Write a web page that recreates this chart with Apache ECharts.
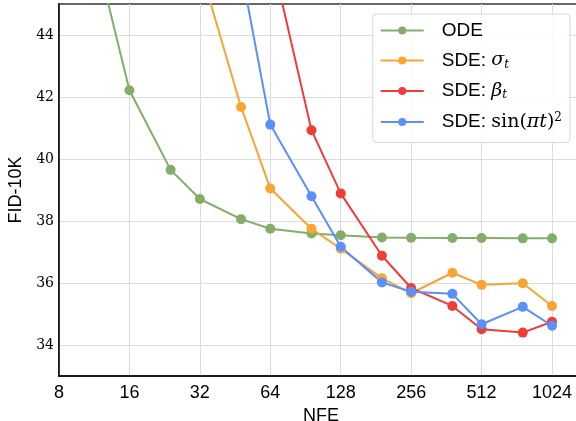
<!DOCTYPE html>
<html>
<head>
<meta charset="utf-8">
<script src="https://cdn.jsdelivr.net/npm/echarts@6/dist/echarts.min.js"></script>
<style>
  html, body { margin: 0; padding: 0; background: #fff; }
  #chart { width: 576px; height: 421px; }
</style>
</head>
<body>
<div id="chart"></div>
<script>
// NFE steps for each curve
const odeNfe = [8, 16, 24, 32, 48, 64, 96, 128, 192, 256, 384, 512, 768, 1024]
const odeFid = [51.5, 42.22, 39.65, 38.71, 38.06, 37.75, 37.6, 37.54, 37.47, 37.46, 37.45, 37.45, 37.44, 37.44]

const sigmaNfe = [32, 48, 64, 96, 128, 192, 256, 384, 512, 768, 1024]
const sigmaFid = [46.2, 41.68, 39.05, 37.75, 37.11, 36.15, 35.67, 36.33, 35.94, 35.99, 35.26]

const betaNfe = [64, 96, 128, 192, 256, 384, 512, 768, 1024]
const betaFid = [46.7, 40.93, 38.89, 36.88, 35.84, 35.26, 34.51, 34.4, 34.75]

const sinNfe = [48, 64, 96, 128, 192, 256, 384, 512, 768, 1024]
const sinFid = [46.12, 41.11, 38.8, 37.17, 36.02, 35.72, 35.65, 34.67, 35.23, 34.62]

const yTicks = [34, 36, 38, 40, 42, 44]

const pair = (xs, ys) => xs.map((x, i) => [x, ys[i]])

const mkSeries = (name, xs, ys, color) => ({
  name: name,
  type: 'line',
  data: pair(xs, ys),
  symbol: 'circle',
  symbolSize: 10,
  clip: true,
  lineStyle: { color: color, width: 2 },
  itemStyle: { color: color },
  emphasis: { disabled: true },
  z: 3,
})

var myChart = echarts.init(document.getElementById('chart'))

const legendLabels = {
  'ODE': '{a|ODE}',
  'SDE: σt': '{a|SDE: }{m|σ}{s|t}',
  'SDE: βt': '{a|SDE: }{m|β}{s|t}',
  'SDE: sin(πt)2': '{a|SDE: }{r|sin(}{m|πt}{r|)}{p|2}',
}

const sans = 'Liberation Sans'
const serif = 'DejaVu Serif'

var option = {
  animation: false,
  backgroundColor: '#fff',
  grid: {
    left: 59,
    width: 524,
    top: 4,
    bottom: 45,
    outerBoundsMode: 'none',
    containLabel: false,
    show: true,
    borderColor: '#666',
    borderWidth: 2,
  },
  legend: {
    right: 6,
    top: 14,
    orient: 'vertical',
    itemWidth: 43,
    itemHeight: 10,
    itemGap: 11,
    padding: [7, 8, 11, 7],
    backgroundColor: 'rgba(255,255,255,0.85)',
    borderColor: '#d6d6d6',
    borderWidth: 1,
    borderRadius: 4,
    formatter: (name) => legendLabels[name],
    textStyle: {
      color: '#000',
      height: 20,
      padding: [0, 0, 0, 13],
      rich: {
        a: { fontFamily: sans, fontSize: 19, color: '#000', lineHeight: 20 },
        m: { fontFamily: serif, fontStyle: 'italic', fontSize: 19, color: '#000', lineHeight: 20 },
        r: { fontFamily: serif, fontSize: 19, color: '#000', lineHeight: 20 },
        s: { fontFamily: serif, fontStyle: 'italic', fontSize: 12, color: '#000', verticalAlign: 'bottom', lineHeight: 13 },
        p: { fontFamily: serif, fontSize: 12, color: '#000', verticalAlign: 'top', lineHeight: 13 },
      },
    },
  },
  xAxis: {
    type: 'log',
    logBase: 2,
    min: 8,
    max: 1389,
    name: 'NFE',
    nameLocation: 'middle',
    nameGap: 25,
    nameTextStyle: { fontFamily: sans, fontSize: 18, color: '#000' },
    axisLine: { show: true, lineStyle: { color: '#000', width: 1.5 } },
    axisTick: { show: false },
    axisLabel: {
      fontFamily: sans,
      fontSize: 18,
      color: '#000',
      margin: 8,
      showMaxLabel: false,
      formatter: (v) => String(Math.round(v)),
    },
    splitLine: { show: true, lineStyle: { color: '#dcdcdc', width: 1 } },
  },
  yAxis: {
    type: 'value',
    min: 33,
    max: 45,
    name: 'FID-10K',
    nameLocation: 'middle',
    nameGap: 28,
    nameTextStyle: { fontFamily: sans, fontSize: 18, color: '#000' },
    axisLine: { show: true, lineStyle: { color: '#000', width: 1.5 } },
    axisTick: { show: false, customValues: yTicks },
    axisLabel: {
      fontFamily: serif,
      fontSize: 14,
      color: '#000',
      margin: 5,
      customValues: yTicks,
    },
    splitLine: { show: true, lineStyle: { color: '#dcdcdc', width: 1 } },
  },
  series: [
    mkSeries('ODE', odeNfe, odeFid, '#84ad6a'),
    mkSeries('SDE: σt', sigmaNfe, sigmaFid, '#f7a533'),
    mkSeries('SDE: βt', betaNfe, betaFid, '#ef3d38'),
    mkSeries('SDE: sin(πt)2', sinNfe, sinFid, '#5b8ff9'),
  ],
}

myChart.setOption(option)
</script>
</body>
</html>
